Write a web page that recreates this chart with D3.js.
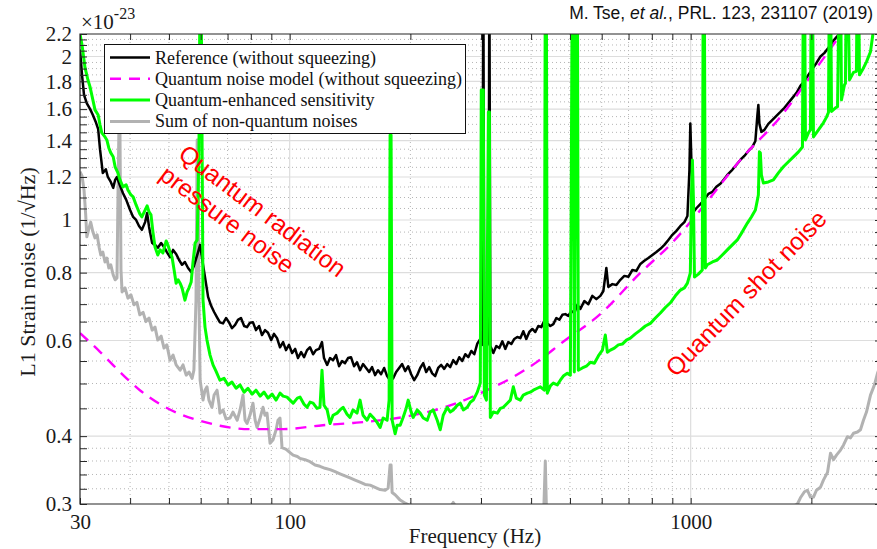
<!DOCTYPE html>
<html lang="en">
<head>
<meta charset="UTF-8" />
<title>L1 strain noise</title>
<script src="https://d3js.org/d3.v7.min.js"></script>
<style>
  body { margin: 0; background: #fff; }
  svg { display: block; }
</style>
</head>
<body>
<svg id="chart" width="877" height="549"></svg>
<script>
// [frequency (Hz), strain (x1e-23 /sqrt(Hz))]
const reference = [
  [30,2.06],[30.35,1.85],[30.7,1.70],[31.2,1.64],[31.8,1.60],[32.3,1.56],[32.9,1.51],[33.3,1.47],[33.65,1.35],[34.2,1.22],[34.8,1.24],[35.2,1.20],[35.8,1.175],[36.3,1.146],[36.7,1.185],[37.1,1.20],[37.7,1.16],[38.4,1.12],[39.1,1.09],[40.0,1.043],[40.7,1.013],[41.4,1.0],[42.1,0.975],[42.8,0.959],[43.6,0.991],[44.1,1.03],[44.6,0.971],[45.4,0.907],[46.15,0.90],[46.9,0.889],[47.8,0.907],[48.6,0.892],[49.4,0.873],[50.3,0.854],[51.2,0.881],[52.1,0.866],[53.0,0.844],[53.9,0.827],[54.8,0.837],[55.8,0.816],[56.8,0.802],[57.7,0.823],[58.8,0.862],[59.8,0.90],[60.8,0.827],[61.5,0.785],[62.6,0.722],[63.7,0.695],[64.8,0.677],[65.9,0.662],[67.0,0.648],[68.2,0.645],[69.4,0.66],[70.6,0.648],[71.8,0.632],[73.1,0.641],[74.3,0.655],[75.6,0.66],[77.0,0.638],[78.3,0.635],[79.6,0.647],[81.0,0.648],[82.4,0.627],[83.9,0.638],[85.3,0.614],[86.8,0.627],[88.3,0.62],[89.9,0.601],[91.4,0.617],[93.0,0.606],[94.6,0.583],[96.3,0.596],[97.9,0.576],[99.6,0.589],[101.4,0.569],[103.2,0.579],[104.9,0.557],[106.8,0.571],[108.6,0.559],[110.5,0.576],[112.4,0.583],[114.4,0.566],[116.3,0.576],[118.4,0.579],[120.4,0.596],[121.8,0.557],[124.0,0.541],[126.1,0.557],[128.3,0.552],[130.5,0.564],[132.8,0.538],[135.1,0.550],[137.4,0.545],[139.8,0.557],[142.2,0.559],[144.7,0.538],[147.2,0.547],[149.8,0.529],[152.4,0.543],[155.1,0.534],[157.8,0.525],[160.5,0.536],[163.3,0.518],[166.1,0.529],[169.0,0.520],[172.0,0.534],[175.0,0.516],[178.0,0.507],[181.1,0.511],[184.3,0.525],[187.5,0.534],[190.7,0.543],[194.1,0.527],[197.5,0.538],[200.9,0.520],[204.4,0.507],[208.0,0.518],[211.6,0.534],[215.3,0.545],[219.0,0.525],[222.8,0.536],[226.7,0.522],[230.6,0.516],[234.6,0.534],[238.7,0.541],[242.9,0.532],[247.1,0.543],[251.4,0.536],[255.8,0.552],[260.3,0.543],[264.8,0.559],[269.4,0.550],[274.1,0.566],[278.9,0.559],[283.7,0.574],[288.7,0.566],[293.7,0.592],[298.8,0.604],[302.2,0.589],[304.0,3.0],[305.8,0.576],[311.3,0.589],[313.0,0.596],[314.8,3.0],[316.5,0.586],[322.0,0.569],[327.6,0.586],[333.3,0.581],[339.1,0.598],[344.9,0.579],[350.9,0.596],[357.0,0.591],[363.2,0.604],[369.5,0.609],[376.0,0.606],[382.5,0.624],[389.1,0.604],[395.9,0.622],[402.8,0.630],[409.8,0.622],[416.9,0.638],[424.2,0.635],[431.5,0.652],[439.0,0.645],[446.7,0.638],[454.5,0.643],[462.4,0.66],[470.4,0.655],[478.6,0.669],[486.9,0.671],[495.4,0.666],[504.0,0.68],[512.8,0.674],[521.7,0.698],[530.7,0.686],[543.0,0.709],[555.7,0.70],[568.6,0.725],[581.8,0.715],[595.4,0.725],[605.7,0.74],[616.2,0.816],[623.2,0.753],[637.8,0.762],[652.6,0.759],[667.8,0.776],[683.3,0.789],[699.2,0.786],[715.5,0.809],[732.1,0.806],[749.1,0.83],[766.5,0.841],[784.3,0.851],[802.6,0.862],[821.2,0.873],[840.3,0.885],[859.8,0.90],[879.8,0.919],[900.3,0.939],[921.2,0.955],[942.7,0.975],[964.6,0.991],[981.5,1.017],[992.9,1.237],[998,1.505],[1004,1.29],[1016,1.034],[1033,1.051],[1057,1.07],[1081,1.089],[1107,1.117],[1133,1.127],[1159,1.151],[1186,1.166],[1213,1.19],[1241,1.216],[1270,1.237],[1299,1.263],[1330,1.29],[1361,1.312],[1393,1.34],[1425,1.363],[1450,1.398],[1467,1.561],[1475,1.629],[1484,1.503],[1501,1.453],[1527,1.465],[1562,1.503],[1599,1.529],[1636,1.555],[1674,1.581],[1713,1.609],[1753,1.643],[1794,1.678],[1836,1.714],[1878,1.766],[1922,1.803],[1966,1.85],[2012,1.898],[2059,1.946],[2107,2.0],[2156,2.031],[2206,2.075],[2258,2.128],[2310,2.172],[2364,2.21],[2418,2.26]
];

const quantumModel = [
  [30,0.619],[33.65,0.572],[37.74,0.525],[42.3,0.486],[47.5,0.458],[53.3,0.439],[59.8,0.427],[67,0.418],[79.6,0.412],[96.3,0.412],[121,0.419],[144,0.423],[178,0.430],[215,0.441],[261,0.460],[299,0.480],[361,0.514],[414,0.548],[480,0.596],[595,0.671],[749,0.799],[898,0.907],[1057,1.043],[1330,1.29],[1674,1.548],[2019,1.866],[2364,2.192],[2450,2.27]
];

const squeezed = [
  [30,2.20],[30.35,2.10],[30.87,1.91],[31.4,1.81],[31.77,1.76],[32.3,1.664],[32.7,1.595],[33.3,1.561],[33.65,1.497],[34.0,1.447],[34.63,1.422],[35.0,1.404],[35.4,1.357],[35.8,1.329],[36.3,1.307],[36.7,1.253],[37.3,1.221],[37.74,1.185],[38.4,1.151],[39.1,1.161],[39.5,1.136],[40.2,1.112],[40.7,1.103],[41.4,1.066],[41.9,1.043],[42.3,1.026],[42.8,1.013],[43.6,1.043],[44.1,1.062],[44.6,1.035],[45.1,1.022],[45.6,0.951],[46.15,0.892],[46.9,0.862],[47.5,0.881],[48.3,0.87],[49.2,0.915],[49.7,0.90],[50.3,0.873],[50.9,0.854],[51.5,0.809],[52.1,0.765],[52.7,0.776],[53.3,0.765],[53.9,0.75],[54.8,0.712],[55.5,0.737],[56.1,0.75],[56.8,0.769],[57.4,0.837],[58.1,0.907],[58.8,0.919],[59.4,1.346],[59.8,3.0],[60.1,3.0],[60.8,0.712],[61.5,0.635],[62.2,0.601],[63.3,0.564],[64.4,0.541],[65.5,0.527],[67.0,0.507],[68.6,0.511],[70.2,0.497],[71.8,0.503],[73.5,0.49],[75.2,0.497],[77.0,0.482],[78.7,0.49],[80.6,0.478],[82.4,0.486],[84.4,0.474],[86.3,0.482],[88.3,0.47],[90.4,0.478],[92.5,0.466],[94.6,0.48],[96.3,0.474],[98.5,0.472],[100.2,0.466],[102.0,0.46],[104.5,0.47],[106.1,0.472],[108.6,0.458],[110.5,0.452],[112.4,0.462],[114.4,0.46],[117.0,0.45],[119.0,0.452],[120.4,0.529],[121.8,0.456],[124.0,0.447],[126.1,0.422],[128.3,0.437],[131.3,0.441],[133.5,0.447],[135.9,0.452],[139.0,0.439],[141.4,0.433],[143.9,0.447],[147.2,0.441],[149.8,0.466],[152.4,0.437],[156.0,0.428],[158.7,0.439],[161.5,0.433],[165.2,0.424],[168.1,0.415],[171.0,0.432],[175.0,0.428],[177.0,0.466],[178.0,1.434],[179.0,1.434],[180.1,0.428],[183.2,0.404],[185.4,0.419],[188.6,0.419],[191.8,0.433],[195.2,0.45],[197.5,0.466],[200.9,0.443],[203.2,0.433],[208.0,0.447],[211.6,0.441],[215.3,0.432],[220.3,0.428],[224.1,0.443],[228.0,0.447],[233.3,0.428],[237.4,0.411],[241.5,0.437],[247.1,0.452],[251.4,0.443],[255.8,0.447],[261.8,0.456],[266.3,0.46],[271.0,0.447],[277.3,0.452],[282.1,0.462],[287.0,0.466],[293.7,0.482],[298.8,0.501],[300.5,1.736],[304.0,1.736],[305.8,0.476],[309.5,0.466],[313.0,1.581],[314.8,1.581],[316.5,0.433],[322.0,0.443],[329.5,0.441],[335.2,0.45],[341.0,0.452],[348.9,0.46],[355.0,0.466],[361.2,0.493],[367.4,0.47],[376.0,0.466],[382.5,0.476],[391.4,0.48],[398.2,0.482],[405.1,0.486],[414.4,0.49],[421.8,0.493],[431.5,0.486],[434.0,3.0],[436.5,3.0],[439.0,0.48],[446.7,0.495],[454.5,0.501],[465.0,0.497],[473.1,0.507],[481.3,0.516],[492.5,0.522],[501.1,0.518],[506.8,3.0],[509.7,3.0],[512.7,0.525],[518.7,3.0],[521.7,3.0],[524.6,0.529],[536.9,0.534],[549.3,0.538],[562.1,0.547],[575.2,0.545],[588.6,0.562],[602.3,0.576],[612.6,0.614],[619.7,0.571],[630.5,0.576],[645.2,0.581],[660.1,0.589],[675.5,0.591],[691.3,0.601],[707.3,0.606],[727.8,0.617],[749.1,0.627],[770.9,0.638],[793.3,0.645],[816.5,0.66],[840.3,0.674],[864.7,0.69],[889.9,0.704],[915.9,0.725],[942.7,0.743],[964.6,0.75],[981.5,0.765],[998,0.799],[1004,1.089],[1010,1.29],[1016,1.089],[1022,0.785],[1045,0.795],[1069,0.809],[1075,3.0],[1081,3.0],[1088,0.816],[1100,0.827],[1133,0.837],[1165,0.844],[1199,0.862],[1234,0.881],[1270,0.90],[1307,0.919],[1345,0.951],[1385,0.987],[1417,1.013],[1450,1.043],[1467,1.089],[1475,1.112],[1484,1.335],[1492,1.33],[1501,1.211],[1518,1.17],[1562,1.175],[1608,1.185],[1655,1.221],[1703,1.253],[1753,1.28],[1804,1.307],[1857,1.335],[1900,1.363],[1911,3.0],[1922,3.0],[1933,1.404],[1966,1.447],[1989,1.465],[2000,3.0],[2012,3.0],[2024,1.422],[2083,1.465],[2143,1.51],[2180,1.545],[2206,1.578],[2219,3.0],[2232,3.0],[2245,1.584],[2297,1.609],[2324,1.616],[2350,3.0],[2364,3.0],[2377,1.664],[2418,1.773],[2432,1.786],[2446,3.0],[2460,3.0],[2489,1.811],[2547,1.87],[2590,1.878],[2605,3.0],[2620,3.0],[2636,1.85],[2682,1.89],[2744,1.955],[2808,2.04],[2857,2.24],[2950,2.5]
];

const nonQuantum = [
  [30,1.227],[30.35,1.206],[30.7,1.136],[31.0,1.022],[31.2,0.931],[31.6,0.967],[31.9,0.991],[32.3,0.951],[32.7,0.927],[33.1,0.939],[33.5,0.889],[33.8,0.862],[34.2,0.873],[34.63,0.837],[35.0,0.851],[35.4,0.816],[35.8,0.827],[36.3,0.792],[36.7,0.776],[37.1,0.782],[37.3,1.089],[37.5,1.447],[37.74,1.447],[37.96,0.809],[38.2,0.737],[38.85,0.75],[39.5,0.718],[40.2,0.728],[40.9,0.698],[41.6,0.705],[42.3,0.669],[43.1,0.676],[43.8,0.65],[44.6,0.66],[45.4,0.627],[46.15,0.635],[46.9,0.601],[47.8,0.611],[48.6,0.581],[49.4,0.589],[50.3,0.552],[51.2,0.564],[52.1,0.541],[53.3,0.529],[54.2,0.541],[55.2,0.518],[56.1,0.525],[57.1,0.511],[57.7,0.529],[58.4,0.712],[58.8,1.404],[59.1,1.404],[59.4,0.712],[59.8,0.507],[60.8,0.466],[61.5,0.486],[62.2,0.493],[62.9,0.466],[64.0,0.452],[64.8,0.476],[65.9,0.486],[66.7,0.456],[67.0,0.441],[68.2,0.447],[69.4,0.43],[71.0,0.432],[72.2,0.443],[74.0,0.428],[75.2,0.447],[76.5,0.476],[77.4,0.428],[78.3,0.422],[79.6,0.437],[81.0,0.46],[82.0,0.428],[82.9,0.415],[84.4,0.432],[85.8,0.452],[86.8,0.437],[87.8,0.441],[89.35,0.388],[90.9,0.394],[92.5,0.411],[93.5,0.428],[94.6,0.432],[95.7,0.381],[97.4,0.379],[98.5,0.377],[100.2,0.373],[102.0,0.369],[104.5,0.367],[106.1,0.364],[109.2,0.362],[112.4,0.359],[115.7,0.354],[119.0,0.352],[122.5,0.349],[126.1,0.347],[129.8,0.344],[133.5,0.341],[137.4,0.338],[141.4,0.335],[145.6,0.332],[149.8,0.329],[154.2,0.326],[158.7,0.325],[163.3,0.322],[168.1,0.319],[173.0,0.318],[176.0,0.321],[178.0,0.354],[179.0,0.354],[180.1,0.315],[183.2,0.312],[188.6,0.305],[194.1,0.301],[199.7,0.298],[211.6,0.295],[250,0.294],[255.8,0.302],[262,0.293],[330,0.29],[430,0.289],[434,0.36],[437,0.289],[700,0.28],[1200,0.28],[1700,0.29],[1846,0.30],[1878,0.308],[1922,0.316],[1955,0.318],[1989,0.309],[2024,0.309],[2059,0.318],[2107,0.322],[2143,0.332],[2194,0.343],[2232,0.372],[2271,0.362],[2310,0.369],[2364,0.377],[2404,0.385],[2460,0.399],[2503,0.397],[2547,0.405],[2605,0.407],[2651,0.411],[2697,0.428],[2744,0.443],[2808,0.476],[2873,0.497],[2923,0.522],[3000,0.55]
];

const xTickValues = [30, 100, 1000];
const xMinorTicks = [40, 50, 60, 70, 80, 90, 200, 300, 400, 500, 600, 700, 800, 900, 2000];
const yTickValues = [0.3, 0.4, 0.6, 0.8, 1, 1.2, 1.4, 1.6, 1.8, 2, 2.2];
const yMinorTicks = [0.32, 0.34, 0.36, 0.38, 0.45, 0.5, 0.55, 0.65, 0.7, 0.75, 0.85, 0.9, 0.95,
  1.05, 1.1, 1.15, 1.25, 1.3, 1.35, 1.45, 1.5, 1.55, 1.65, 1.7, 1.75, 1.85, 1.9, 1.95, 2.05, 2.1, 2.15];

const legendItems = [
  { label: "Reference (without squeezing)", color: "#000000", width: 2.4, dash: null },
  { label: "Quantum noise model (without squeezing)", color: "#ff00ff", width: 2.4, dash: "11,8" },
  { label: "Quantum-enhanced sensitivity", color: "#00ff00", width: 3, dash: null },
  { label: "Sum of non-quantum noises", color: "#b2b2b2", width: 3, dash: null }
];

const serif = "'Liberation Serif', 'Times New Roman', serif";
const sans = "'Liberation Sans', Arial, sans-serif";

const svg = d3.select("#chart");
const plotLeft = 80, plotRight = 882, plotTop = 34, plotBottom = 504;

const x = d3.scaleLog().domain([30, 3000]).range([plotLeft, plotRight]);
const y = d3.scaleLog().domain([0.3, 2.2]).range([plotBottom, plotTop]);

// grid
const grid = svg.append("g");
grid.selectAll(".vminor").data(xMinorTicks).enter().append("line")
  .attr("x1", d => x(d)).attr("x2", d => x(d)).attr("y1", plotTop).attr("y2", plotBottom)
  .attr("stroke", "#b5b5b5").attr("stroke-width", 1).attr("stroke-dasharray", "1,3");
grid.selectAll(".hminor").data(yMinorTicks).enter().append("line")
  .attr("x1", plotLeft).attr("x2", plotRight).attr("y1", d => y(d)).attr("y2", d => y(d))
  .attr("stroke", "#b5b5b5").attr("stroke-width", 1).attr("stroke-dasharray", "1,3");
grid.selectAll(".vmajor").data([100, 1000]).enter().append("line")
  .attr("x1", d => x(d)).attr("x2", d => x(d)).attr("y1", plotTop).attr("y2", plotBottom)
  .attr("stroke", "#dddddd").attr("stroke-width", 1.2);
grid.selectAll(".hmajor").data(yTickValues.slice(1, -1)).enter().append("line")
  .attr("x1", plotLeft).attr("x2", plotRight).attr("y1", d => y(d)).attr("y2", d => y(d))
  .attr("stroke", "#dddddd").attr("stroke-width", 1.2);

// curves
svg.append("clipPath").attr("id", "plotclip")
  .append("rect").attr("x", plotLeft).attr("y", plotTop)
  .attr("width", plotRight - plotLeft).attr("height", plotBottom - plotTop);

const line = d3.line().x(d => x(d[0])).y(d => y(d[1]));
const plot = svg.append("g").attr("clip-path", "url(#plotclip)");

function drawSeries(data, color, w, dash, curve) {
  plot.append("path")
    .datum(data)
    .attr("fill", "none")
    .attr("stroke", color)
    .attr("stroke-width", w)
    .attr("stroke-linejoin", "round")
    .attr("stroke-dasharray", dash)
    .attr("d", line.curve(curve || d3.curveLinear)(data));
}

drawSeries(nonQuantum, "#b2b2b2", 3, null);
drawSeries(reference, "#000000", 2.5, null);
drawSeries(quantumModel, "#ff00ff", 2.4, "11,8", d3.curveMonotoneX);
drawSeries(squeezed, "#00ff00", 3, null);

// axes (ticks pointing inward on all four sides)
function styleAxis(g) {
  g.select(".domain").remove();
  g.selectAll(".tick line").attr("stroke", "#262626").attr("stroke-width", 1);
  g.attr("font-family", serif).attr("font-size", 21);
  g.selectAll("text").attr("fill", "#1a1a1a");
}

svg.append("g").attr("transform", `translate(0,${plotBottom})`)
  .call(d3.axisBottom(x).tickValues(xTickValues).tickFormat(d => d).tickSizeInner(-6).tickSizeOuter(0).tickPadding(10))
  .call(styleAxis);
svg.append("g").attr("transform", `translate(0,${plotBottom})`)
  .call(d3.axisBottom(x).tickValues(xMinorTicks).tickFormat("").tickSizeInner(-6).tickSizeOuter(0))
  .call(styleAxis);
svg.append("g").attr("transform", `translate(0,${plotTop})`)
  .call(d3.axisTop(x).tickValues(xTickValues.concat(xMinorTicks)).tickFormat("").tickSizeInner(-6).tickSizeOuter(0))
  .call(styleAxis);

svg.append("g").attr("transform", `translate(${plotLeft},0)`)
  .call(d3.axisLeft(y).tickValues(yTickValues).tickFormat(d => String(d)).tickSizeInner(-7).tickSizeOuter(0).tickPadding(8))
  .call(styleAxis);
svg.append("g").attr("transform", `translate(${plotLeft},0)`)
  .call(d3.axisLeft(y).tickValues(yMinorTicks).tickFormat("").tickSizeInner(-7).tickSizeOuter(0))
  .call(styleAxis);
svg.append("g").attr("transform", `translate(${plotRight},0)`)
  .call(d3.axisRight(y).tickValues(yTickValues.concat(yMinorTicks)).tickFormat("").tickSizeInner(-7).tickSizeOuter(0))
  .call(styleAxis);

// box
svg.append("path")
  .attr("d", `M${plotLeft},${plotBottom}V${plotTop}H${plotRight}V${plotBottom}Z`)
  .attr("fill", "none").attr("stroke", "#262626").attr("stroke-width", 1.2);

// axis labels
svg.append("text")
  .attr("x", 475).attr("y", 543)
  .attr("text-anchor", "middle")
  .attr("font-family", serif).attr("font-size", 21).attr("fill", "#1a1a1a")
  .text("Frequency (Hz)");

svg.append("text")
  .attr("transform", "translate(35,272) rotate(-90)")
  .attr("text-anchor", "middle")
  .attr("font-family", serif).attr("font-size", 22).attr("fill", "#1a1a1a")
  .text("L1 Strain noise (1/\u221AHz)");

const expo = svg.append("text")
  .attr("x", 81).attr("y", 29)
  .attr("font-family", serif).attr("font-size", 21).attr("fill", "#1a1a1a");
expo.append("tspan").text("\u00D710");
expo.append("tspan").attr("font-size", 16).attr("dy", -10).text("-23");

// citation
const cite = svg.append("text")
  .attr("x", 873).attr("y", 19)
  .attr("text-anchor", "end")
  .attr("font-family", sans).attr("font-size", 17.5).attr("fill", "#111");
cite.append("tspan").text("M. Tse, ");
cite.append("tspan").attr("font-style", "italic").text("et al.");
cite.append("tspan").text(", PRL. 123, 231107 (2019)");

// legend
const legend = svg.append("g");
legend.append("rect")
  .attr("x", 104.5).attr("y", 44.5).attr("width", 361).attr("height", 89)
  .attr("fill", "#fff").attr("stroke", "#111").attr("stroke-width", 1);
const rows = legend.selectAll(".row").data(legendItems).enter().append("g")
  .attr("transform", (d, i) => `translate(0,${57.5 + i * 21.3})`);
rows.append("line")
  .attr("x1", 110).attr("x2", 150).attr("y1", 0).attr("y2", 0)
  .attr("stroke", d => d.color).attr("stroke-width", d => d.width)
  .attr("stroke-dasharray", d => d.dash);
rows.append("text")
  .attr("x", 155).attr("y", 6)
  .attr("font-family", serif).attr("font-size", 18).attr("fill", "#111")
  .text(d => d.label);

// annotations
const notes = [
  { text: "Quantum radiation", tx: 177, ty: 157, angle: 37 },
  { text: "pressure noise", tx: 158, ty: 178, angle: 37 },
  { text: "Quantum shot noise", tx: 676, ty: 378, angle: -46 }
];
svg.selectAll(".note").data(notes).enter().append("text")
  .attr("transform", d => `translate(${d.tx},${d.ty}) rotate(${d.angle})`)
  .attr("font-family", sans).attr("font-size", 24.5).attr("fill", "#ff0000")
  .text(d => d.text);
</script>
</body>
</html>
